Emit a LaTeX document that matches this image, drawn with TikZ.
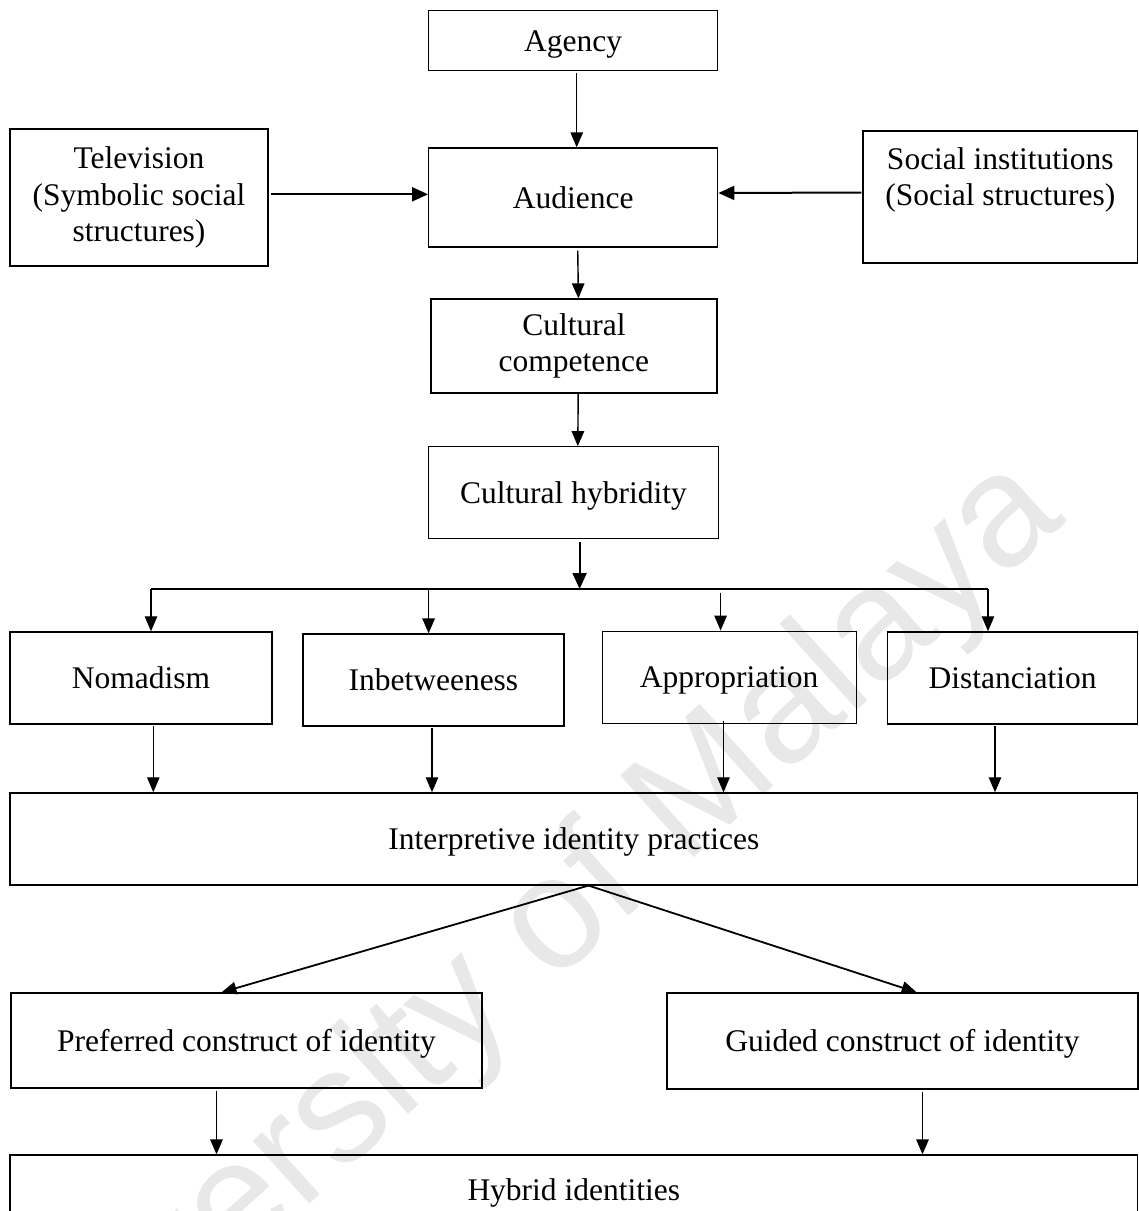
\documentclass[tikz,border=0pt]{standalone}
\usepackage{fontspec}
\setmainfont{Liberation Serif}
\newfontfamily\wmfont{Liberation Sans}
\usetikzlibrary{arrows.meta}
\newcommand\boxstrut{\rule[-6.8pt]{0pt}{34.9pt}}
\begin{document}
\begin{tikzpicture}[x=1pt,y=-1pt,
  box/.style={draw, line width=1.3pt, inner sep=0pt, align=center,
    font=\fontsize{31.5pt}{36.5pt}\selectfont,
    execute at begin node=\boxstrut, execute at end node=\boxstrut},
  plain/.style={inner sep=0pt, align=center, font=\fontsize{31.5pt}{36.5pt}\selectfont,
    execute at begin node=\boxstrut, execute at end node=\boxstrut},
  arr/.style={line width=1.4pt, -{Triangle[length=15pt,width=12.5pt]}},
  tarr/.style={line width=2pt, -{Triangle[length=16pt,width=14pt]}},
  wmark/.style={text=black!9, font=\wmfont\fontsize{160pt}{160pt}\selectfont, rotate=42, inner sep=0pt}]
\useasboundingbox (0,0) rectangle (1139,1211);
\clip (0,0) rectangle (1139,1211);
% watermark
\node[wmark] (wm) at (505,972) {University of Malaya};
% boxes
\node[box, minimum width=289pt, minimum height=60pt] (agency) at (573.2,40.7) {Agency};
\node[box, minimum width=258pt, minimum height=137pt] (tv) at (139,197.5) {Television\\(Symbolic social\\structures)};
\node[box, minimum width=289pt, minimum height=99pt] (aud) at (573.2,197.5) {Audience};
\node[box, minimum width=274.5pt, minimum height=132pt] (soc) at (1000.3,197) {};
\node[plain] (soct) at (1000.3,180) {Social institutions\\(Social structures)};
\node[box, minimum width=286pt, minimum height=94pt] (comp) at (573.9,346) {Cultural\\competence};
\node[box, minimum width=290pt, minimum height=92pt] (hyb) at (573.5,492.8) {Cultural hybridity};
\node[box, minimum width=262pt, minimum height=92pt] (nom) at (140.9,677.9) {Nomadism};
\node[box, minimum width=261pt, minimum height=92pt] (inb) at (433.4,680) {Inbetweeness};
\node[box, minimum width=254pt, minimum height=92pt] (app) at (729.2,677.2) {Appropriation};
\node[box, minimum width=250pt, minimum height=92pt] (dis) at (1012.6,677.9) {Distanciation};
\node[box, minimum width=1127.5pt, minimum height=92pt] (interp) at (573.8,838.9) {Interpretive identity practices};
\node[box, minimum width=471pt, minimum height=95pt] (pref) at (246.5,1040.5) {Preferred construct of identity};
\node[box, minimum width=471pt, minimum height=96pt] (guid) at (902.4,1041) {Guided construct of identity};
\node[box, minimum width=1127.5pt, minimum height=70pt] (hid) at (573.8,1190) {Hybrid identities};
% top connectors
\draw[arr, shorten <=2pt] ([xshift=3.5pt]agency.south) -- ([xshift=3.5pt]aud.north);
\draw[tarr, shorten <=2pt] ([yshift=3.2pt]tv.east) -- ([yshift=3.2pt]aud.west);
\draw[tarr, shorten <=1pt] ([yshift=4.5pt]soc.west) -- ([yshift=4.5pt]aud.east);
\draw[arr, shorten <=3pt] ([xshift=4.5pt]aud.south) -- ([xshift=4.5pt]comp.north);
\draw[arr] ([xshift=4.3pt]comp.south) -- ([xshift=4.3pt]hyb.north);
% branch
\coordinate (br) at (579.6,589);
\coordinate (b1) at (151,589);
\coordinate (b2) at (428.6,589);
\coordinate (b3) at (720.6,592.5);
\coordinate (b4) at (988,589);
\draw[tarr, shorten <=3pt] ([xshift=6.1pt]hyb.south) -- (br);
\draw[line width=2pt] (b1) -- (b4);
\draw[arr] (b1) -- (b1 |- nom.north);
\draw[arr] (b2) -- (b2 |- inb.north);
\draw[arr] (b3) -- (b3 |- app.north);
\draw[arr] (b4) -- (b4 |- dis.north);
% down to interpretive
\coordinate (n1) at ([xshift=12.4pt]nom.south);
\coordinate (n2) at ([xshift=-1.4pt]inb.south);
\coordinate (n3) at ([xshift=-5.7pt,yshift=3pt]app.south);
\coordinate (n4) at ([xshift=-17.6pt]dis.south);
\draw[arr, shorten <=1pt] (n1) -- (n1 |- interp.north);
\draw[arr, shorten <=1pt] (n2) -- (n2 |- interp.north);
\draw[arr] (n3) -- (n3 |- interp.north);
\draw[arr, shorten <=1pt] (n4) -- (n4 |- interp.north);
% split
\coordinate (ap) at ([xshift=14.7pt]interp.south);
\draw[arr, line width=1.8pt] (ap) -- ([xshift=-25pt]pref.north);
\draw[arr, line width=1.8pt] (ap) -- ([xshift=14.3pt]guid.north);
% to hybrid identities
\coordinate (p1) at ([xshift=-30pt]pref.south);
\draw[arr, shorten <=2pt] (p1) -- (p1 |- hid.north);
\coordinate (g1) at ([xshift=20.1pt]guid.south);
\draw[arr, shorten <=2pt] (g1) -- (g1 |- hid.north);
\end{tikzpicture}
\end{document}
